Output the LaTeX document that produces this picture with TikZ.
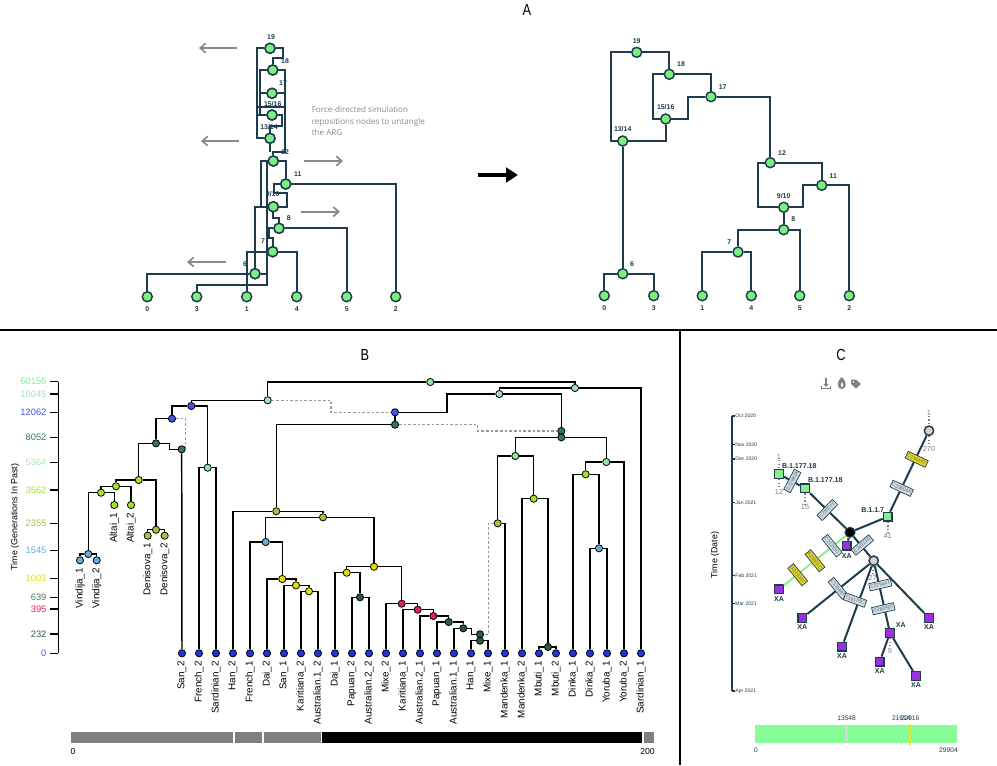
\documentclass[tikz,border=0pt]{standalone}
\usepackage{fontspec}
\setmainfont{Liberation Sans}
\newfontfamily\opensans{Open Sans}
\usetikzlibrary{arrows.meta}
\definecolor{ae}{HTML}{1D3C4E}
\definecolor{ag}{HTML}{7CF07E}
\definecolor{agray}{HTML}{8A8A8A}
\definecolor{cLG}{HTML}{8EE89A}
\definecolor{cCY}{HTML}{9EDDDC}
\definecolor{cBL}{HTML}{4655E8}
\definecolor{cTE}{HTML}{2D7A58}
\definecolor{cPG}{HTML}{A8E8B8}
\definecolor{cYG}{HTML}{A4E22A}
\definecolor{cOL}{HTML}{A0C83A}
\definecolor{cLB}{HTML}{64AEDA}
\definecolor{cYE}{HTML}{E2E000}
\definecolor{cDG}{HTML}{5A7A58}
\definecolor{cRE}{HTML}{E2205A}
\definecolor{cDK}{HTML}{2F5A3F}
\definecolor{cLeaf}{HTML}{2233DD}
\definecolor{cbox}{HTML}{D3DCE2}
\definecolor{cyel}{HTML}{E6D41C}
\definecolor{cxa}{HTML}{9B30E0}
\definecolor{csq}{HTML}{86EE8C}
\definecolor{cbar}{HTML}{88FC98}
\definecolor{cgreenline}{HTML}{8CF08C}
\definecolor{cyline}{HTML}{F0E020}
\tikzset{
  aedge/.style={draw=ae, line width=1.6pt},
  anode/.style={circle, fill=ag, draw=ae, line width=1.1pt, minimum size=7.5pt, inner sep=0pt},
  alab/.style={font=\fontsize{5.2}{6}\selectfont\bfseries, text=ae, inner sep=0pt},
  garrow/.style={draw=agray, line width=1.3pt, -{Straight Barb[length=4pt,width=7pt]}},
  bedge/.style={draw=black, line width=1.1pt},
  bdash/.style={draw=gray!80, line width=1pt, dash pattern=on 2pt off 1.5pt},
  bnode/.style={circle, draw=black, line width=0.6pt, minimum size=5.4pt, inner sep=0pt},
  bleaf/.style={bnode, fill=cLeaf},
  blab/.style={font=\fontsize{7.4}{8}\selectfont, rotate=90, anchor=east, inner sep=1pt},
  btick/.style={font=\fontsize{7}{8}\selectfont, anchor=east, inner sep=1pt},
  cedge/.style={draw=ae, line width=1.5pt},
  csqn/.style={rectangle, draw=ae, line width=1.1pt, minimum size=6.5pt, inner sep=0pt},
  ccirc/.style={circle, draw=ae, line width=1.1pt, minimum size=7pt, inner sep=0pt},
  mbox/.style={draw=ae, line width=0.5pt, fill=cbox, font=\fontsize{3.7}{4}\selectfont, inner sep=0.7pt, minimum height=5.5pt, text=ae!75},
  ybox/.style={mbox, fill=cyel},
  clab/.style={font=\fontsize{5.3}{6}\selectfont\bfseries, text=ae, inner sep=0pt},
  cnum/.style={font=\fontsize{5.5}{6}\selectfont, text=gray, inner sep=0pt},
  cdots/.style={draw=gray, line width=1.2pt, dash pattern=on 1pt off 1.6pt},
  ctick/.style={font=\fontsize{3.8}{4}\selectfont, text=ae, anchor=west, inner sep=0.5pt},
  plabel/.style={font=\fontsize{12}{14}\selectfont, xscale=0.8},
}
\begin{document}
\begin{tikzpicture}[x=0.75pt,y=-0.75pt]
\useasboundingbox (0,0) rectangle (997,765);
\fill[white] (0,0) rectangle (997,765);

% ---------- panel labels and separators
\node[plabel] (pA) at (527,10) {A};
\node[plabel] (pB) at (365,355) {B};
\node[plabel] (pC) at (841,355) {C};
\draw[line width=1.3pt] (0,330) -- (997,330);
\draw[line width=1.3pt] (680,330) -- (680,765);

% ================= PANEL A left (tangled)
\node[anode] (l19) at (270,48.3) {};
\node[anode] (l18) at (272.7,70) {};
\node[anode] (l17) at (272,93.3) {};
\node[anode] (l15) at (272,115) {};
\node[anode] (l13) at (270,138.3) {};
\node[anode] (l12) at (273.3,161) {};
\node[anode] (l11) at (285.7,184) {};
\node[anode] (l9) at (273.3,206.7) {};
\node[anode] (l8) at (279,228.3) {};
\node[anode] (l7) at (272.7,251.7) {};
\node[anode] (l6) at (255,273.7) {};
\node[anode] (la0) at (147.3,296.7) {};
\node[anode] (la3) at (196.7,296.7) {};
\node[anode] (la1) at (246.7,296.7) {};
\node[anode] (la4) at (296.7,296.7) {};
\node[anode] (la5) at (346.7,296.7) {};
\node[anode] (la2) at (395.7,296.7) {};
\begin{scope}[aedge]
\draw (l19) -- (257.3,48.3) -- (257.3,138.3) -- (l13);
\draw (l19) -- (283.3,48.3) -- (283.3,58.3) -- (272.7,58.3) -- (l18);
\draw (l18) -- (260.3,70) -- (260.3,115) -- (l15);
\draw (l18) -- (284.7,70) -- (284.7,152) -- (273.3,152) -- (l12);
\draw (l17) -- (260.3,93.3);
\draw (l17) -- (284.7,93.3);
\draw (258.3,106.7) -- (284.7,106.7);
\draw (l15) -- (258.3,115);
\draw (l15) -- (282,115) -- (282,126) -- (270,126) -- (l13);
\draw (l13) -- (270,152);
\draw (l12) -- (260.7,161) -- (260.7,206.7) -- (l9);
\draw (l12) -- (285.7,161) -- (l11);
\draw (266.7,161) -- (266.7,285) -- (196.7,285) -- (la3);
\draw (l11) -- (395.7,184) -- (la2);
\draw (l11) -- (274,184) -- (274,193.3) -- (286.7,193.3) -- (286.7,206.7) -- (l9);
\draw (l9) -- (255,206.7) -- (l6);
\draw (l9) -- (273.3,218.3) -- (279,218.3) -- (l8);
\draw (l8) -- (346.7,228.3) -- (la5);
\draw (l8) -- (268.5,228.3) -- (268.5,238.3) -- (272.7,238.3) -- (l7);
\draw (l7) -- (246.7,251.7) -- (la1);
\draw (l7) -- (296.7,251.7) -- (la4);
\draw (l6) -- (147.3,273.7) -- (la0);
\draw (l6) -- (266.7,273.7);
\end{scope}
\foreach \p in {l19,l18,l17,l15,l13,l12,l11,l9,l8,l7,l6} {\node[anode] at (\p) {};}
\node[alab] at (271,37) {19};
\node[alab] at (285,61) {18};
\node[alab] at (283,83) {17};
\node[alab] at (272.7,104) {15/16};
\node[alab] at (269,127) {13/14};
\node[alab] at (285,152) {12};
\node[alab] at (297.7,174) {11};
\node[alab] at (272.7,194) {9/10};
\node[alab] at (288.7,218) {8};
\node[alab] at (263,241) {7};
\node[alab] at (245,264) {6};
\node[alab] at (147.3,309) {0};
\node[alab] at (196.7,309) {3};
\node[alab] at (246.7,309) {1};
\node[alab] at (296.7,309) {4};
\node[alab] at (346.7,309) {5};
\node[alab] at (395.7,309) {2};
% gray arrows
\coordinate (ga1s) at (237,48); \coordinate (ga1e) at (199,48);
\coordinate (ga2s) at (239,141); \coordinate (ga2e) at (201,141);
\coordinate (ga3s) at (304,161); \coordinate (ga3e) at (343,161);
\coordinate (ga4s) at (300.7,211.7); \coordinate (ga4e) at (340,211.7);
\coordinate (ga5s) at (226,262); \coordinate (ga5e) at (187,262);
\draw[garrow] (ga1s) -- (ga1e);
\draw[garrow] (ga2s) -- (ga2e);
\draw[garrow] (ga3s) -- (ga3e);
\draw[garrow] (ga4s) -- (ga4e);
\draw[garrow] (ga5s) -- (ga5e);
\node[anchor=north west, align=left, inner sep=0pt, text=agray,
      font=\opensans\fontsize{6.1}{8.4}\selectfont] (ftxt) at (311.5,106.5)
  {Force-directed simulation\\repositions nodes to untangle\\the ARG};
% big arrow
\coordinate (bas) at (478,175); \coordinate (bae) at (518,175);
\draw[line width=2.4pt, -{Triangle[length=9pt,width=11pt]}] (bas) -- (bae);

% ================= PANEL A right
\node[anode] (r19) at (636.7,52.3) {};
\node[anode] (r18) at (669.3,74.3) {};
\node[anode] (r17) at (711,96.7) {};
\node[anode] (r15) at (665.7,119) {};
\node[anode] (r13) at (622.7,141) {};
\node[anode] (r12) at (770.3,162.7) {};
\node[anode] (r11) at (821.7,185.3) {};
\node[anode] (r9) at (783.7,207.3) {};
\node[anode] (r8) at (783.7,229.7) {};
\node[anode] (r7) at (738,252) {};
\node[anode] (r6) at (622.7,273.7) {};
\node[anode] (ra0) at (604.3,295.7) {};
\node[anode] (ra3) at (653.7,295.7) {};
\node[anode] (ra1) at (702.3,295.7) {};
\node[anode] (ra4) at (751.3,295.7) {};
\node[anode] (ra5) at (799.7,295.7) {};
\node[anode] (ra2) at (849.3,295.7) {};
\begin{scope}[aedge]
\draw (r19) -- (610.7,52.3) |- (r13);
\draw (r19) -| (r18);
\draw (r18) -- (652.7,74.3) |- (r15);
\draw (r18) -| (r17);
\draw (r17) -- (687.7,96.7) |- (r15);
\draw (r17) -| (r12);
\draw (r15) |- (r13);
\draw (r13) -- (r6);
\draw (r6) -| (ra0);
\draw (r6) -| (ra3);
\draw (r12) -- (757.7,162.7) |- (r9);
\draw (r12) -| (r11);
\draw (r11) -- (802.7,185.3) |- (r9);
\draw (r11) -| (ra2);
\draw (r9) -- (r8);
\draw (r8) -| (r7);
\draw (r8) -| (ra5);
\draw (r7) -| (ra1);
\draw (r7) -| (ra4);
\end{scope}
\node[alab] at (636.7,40.7) {19};
\node[alab] at (681,64.3) {18};
\node[alab] at (722.7,86.7) {17};
\node[alab] at (665.7,107.3) {15/16};
\node[alab] at (622.7,129.3) {13/14};
\node[alab] at (782,153.3) {12};
\node[alab] at (833.3,175.7) {11};
\node[alab] at (783.7,196.3) {9/10};
\node[alab] at (793.3,219.3) {8};
\node[alab] at (729.3,242.3) {7};
\node[alab] at (632,264.3) {6};
\node[alab] at (604.3,308) {0};
\node[alab] at (653.7,308) {3};
\node[alab] at (702.3,308) {1};
\node[alab] at (751.3,308) {4};
\node[alab] at (799.7,308) {5};
\node[alab] at (849.3,308) {2};

% ================= PANEL B
% axis
\draw[line width=1.1pt] (58.3,381.7) -- (58.3,653.3);
\foreach \yy/\lab/\col in {381.7/60156/cLG, 394/18045/cCY, 412.3/12062/cBL, 437.3/8052/cTE,
   462.3/5364/cPG, 490/3562/cYG, 523.3/2355/cOL, 550.7/1545/cLB, 578.3/1003/cYE,
   597.3/639/cDG, 609/395/cRE, 634/232/cDK, 653.3/0/cBL}{
  \draw[line width=1pt] (49.5,\yy) -- (58.3,\yy);
  \node[btick, text=\col] at (48,\yy) {\lab};
}
\node[rotate=90, font=\fontsize{6.7}{8}\selectfont] (btitle) at (15,517) {Time (Generations In Past)};

% leaves
\foreach \i/\nm in {0/San\_2,1/French\_2,2/Sardinian\_2,3/Han\_2,4/French\_1,5/Dai\_2,6/San\_1,
  7/Karitiana\_2,8/Australian.1\_2,9/Dai\_1,10/Papuan\_2,11/Australian.2\_2,12/Mixe\_2,
  13/Karitiana\_1,14/Australian.2\_1,15/Papuan\_1,16/Australian.1\_1,17/Han\_1,18/Mixe\_1,
  19/Mandenka\_1,20/Mandenka\_2,21/Mbuti\_1,22/Mbuti\_2,23/Dinka\_1,24/Dinka\_2,
  25/Yoruba\_1,26/Yoruba\_2,27/Sardinian\_1}{
  \node[bleaf] (L\i) at ({182+17*\i},653.3) {};
  \node[blab] at ({182+17*\i},659.5) {\nm};
}
% ancient group
\node[bnode, fill=cLB] (v1) at (80,560.3) {};
\node[bnode, fill=cLB] (v2) at (96.7,560.3) {};
\node[bnode, fill=cLB] (vp) at (88.3,554) {};
\node[bnode, fill=cYG] (a1) at (114.3,505) {};
\node[bnode, fill=cYG] (a2) at (131,505) {};
\node[bnode, fill=cYG] (n1) at (101,492.7) {};
\node[bnode, fill=cYG] (n2) at (116,486.3) {};
\node[bnode, fill=cYG] (n3) at (138.7,480) {};
\node[bnode, fill=cOL] (d1) at (147.7,535.7) {};
\node[bnode, fill=cOL] (d2) at (164.7,535.7) {};
\node[bnode, fill=cOL] (dp) at (156,529.7) {};
\node[bnode, fill=cTE] (n4) at (156,443.3) {};
\node[bnode, fill=cTE] (n5) at (181.7,449.3) {};
\node[bnode, fill=cBL] (n6) at (172,418.7) {};
\node[bnode, fill=cBL] (n7) at (191.3,406) {};
\node[bnode, fill=cLG] (n8) at (207.7,467.7) {};
\node[bnode, fill=cCY] (n9) at (267.7,400.3) {};
\node[bnode, fill=cLG] (top) at (430.3,382) {};
\node[bnode, fill=cCY] (n10) at (575,388) {};
\node[bnode, fill=cCY] (n11) at (499.3,394) {};
\node[bnode, fill=cBL] (n12) at (395,412.3) {};
\node[bnode, fill=cTE] (n13) at (395,424.7) {};
\node[bnode, fill=cTE] (n14) at (561.3,431) {};
\node[bnode, fill=cTE] (n15) at (561.3,437.3) {};
\node[bnode, fill=cLG] (n16) at (515.3,456) {};
\node[bnode, fill=cLG] (n17) at (606.3,462) {};
\node[bnode, fill=cOL] (n18) at (497.7,523.3) {};
\node[bnode, fill=cYG] (n19) at (533.7,498.7) {};
\node[bnode, fill=cDK] (n20) at (548,647) {};
\node[bnode, fill=cYG] (n21) at (585.7,474.3) {};
\node[bnode, fill=cLB] (n22) at (599,548.3) {};
\node[bnode, fill=cOL] (m1) at (276.3,511.3) {};
\node[bnode, fill=cOL] (m2) at (323,517.3) {};
\node[bnode, fill=cLB] (m3) at (265.7,542) {};
\node[bnode, fill=cYE] (m4) at (374,566.7) {};
\node[bnode, fill=cYE] (m5) at (282.3,579) {};
\node[bnode, fill=cYE] (m6) at (296,585.3) {};
\node[bnode, fill=cYE] (m7) at (309,591.3) {};
\node[bnode, fill=cYE] (m8) at (346.7,572.7) {};
\node[bnode, fill=cDK] (m9) at (360,597.3) {};
\node[bnode, fill=cRE] (m10) at (401.7,603.7) {};
\node[bnode, fill=cRE] (m11) at (417.7,609.7) {};
\node[bnode, fill=cRE] (m12) at (433.3,616) {};
\node[bnode, fill=cDK] (m13) at (448.7,622) {};
\node[bnode, fill=cDK] (m14) at (463.3,628.3) {};
\node[bnode, fill=cDK] (m15) at (480,634.3) {};
\node[bnode, fill=cDK] (m16) at (480,640.7) {};

\begin{scope}[bedge]
\draw (vp) -| (v1); \draw (vp) -| (v2);
\draw (n1) -| (vp); \draw (n1) -| (a1);
\draw (n2) -| (n1); \draw (n2) -| (a2);
\draw (n3) -| (n2); \draw (n3) -| (dp);
\draw (dp) -| (d1); \draw (dp) -| (d2);
\draw (n4) -| (n3);
\draw (n4) -- (169.3,443.3) -- (169.3,449.3) -- (n5);
\draw (n5) -- (L0);
\draw (n6) -| (n4);
\draw (n7) -| (n6); \draw (n7) -| (n8);
\draw (n8) -| (L1); \draw (n8) -| (L2);
\draw (n9) -| (n7);
\draw (top) -| (n9); \draw (top) -| (n10);
\draw (n10) -| (n11); \draw (n10) -| (L27);
\draw (n11) -- (447,394) |- (n12);
\draw (n11) -| (n14);
\draw (n12) -- (n13);
\draw (n13) -| (m1);
\draw (n14) -- (n15);
\draw (n15) -| (n16); \draw (n15) -| (n17);
\draw (n16) -| (n18); \draw (n16) -| (n19);
\draw (n18) -| (L19);
\draw (n19) -| (L20); \draw (n19) -| (n20);
\draw (n20) -| (L21); \draw (n20) -| (L22);
\draw (n17) -| (n21); \draw (n17) -| (L26);
\draw (n21) -| (L23); \draw (n21) -| (n22);
\draw (n22) -| (L24); \draw (n22) -| (L25);
\draw (m1) -| (L3); \draw (m1) -| (m2);
\draw (m2) -| (m3); \draw (m2) -| (m4);
\draw (m3) -| (L4); \draw (m3) -| (m5);
\draw (m5) -| (L5); \draw (m5) -| (m6);
\draw (m6) -| (L6); \draw (m6) -| (m7);
\draw (m7) -| (L7); \draw (m7) -| (L8);
\draw (m4) -| (m8); \draw (m4) -| (m10);
\draw (m8) -| (L9); \draw (m8) -| (m9);
\draw (m9) -| (L10); \draw (m9) -| (L11);
\draw (m10) -| (L12); \draw (m10) -| (m11);
\draw (m11) -| (L13); \draw (m11) -| (m12);
\draw (m12) -| (L14); \draw (m12) -| (m13);
\draw (m13) -| (L15); \draw (m13) -| (m14);
\draw (m14) -| (L16);
\draw (m14) -- (471.7,628.3) -- (471.7,634.3) -- (m15);
\draw (m15) -- (m16);
\draw (m16) -| (L17); \draw (m16) -| (L18);
\end{scope}
\begin{scope}[bdash]
\draw (n6) -- (185.7,418.7) |- (n5);
\draw (n9) -- (331,400.3) |- (n12);
\draw (n13) -- (477.7,424.7) |- (n14);
\draw (n18) -- (488.3,523.3) |- (m15);
\end{scope}
% ancient leaf labels
\node[blab] at (80,566.5) {Vindija\_1};
\node[blab] at (96.7,566.5) {Vindija\_2};
\node[blab] at (114.3,511) {Altai\_1};
\node[blab] at (131,511) {Altai\_2};
\node[blab] at (147.7,541.7) {Denisova\_1};
\node[blab] at (164.7,541.7) {Denisova\_2};
% genome bar
\fill[gray] (71,732) rectangle (233.2,743);
\fill[gray] (234.8,732) rectangle (262.2,743);
\fill[gray] (264.2,732) rectangle (321,743);
\fill[black] (322.2,732) rectangle (642.1,743);
\fill[gray] (644.1,732) rectangle (654,743);
\node[font=\fontsize{6.5}{7}\selectfont] (b0) at (73,751.5) {0};
\node[font=\fontsize{6.5}{7}\selectfont, anchor=east, inner sep=0pt] (b200) at (655,751.5) {200};

% ================= PANEL C
% icons
\draw[gray, line width=1pt] (821.5,385.5) -- (821.5,388.5) -- (830.5,388.5) -- (830.5,385.5);
\draw[gray, line width=1.3pt, -{Triangle[length=2.4pt,width=4pt]}] (826,378) -- (826,387);
\fill[gray] (841.7,377) .. controls (847,381) and (847,389) .. (841.7,389)
   .. controls (836.5,389) and (836.5,381) .. (841.7,377);
\fill[white] (841.9,381.8) .. controls (843.6,383.5) and (843.6,387) .. (841.9,387)
   .. controls (840.4,387) and (840.4,384) .. (841.9,381.8);
\fill[gray] (851,379.5) -- (856,379.5) -- (861,384) -- (856,388.5) -- (851,384) -- cycle;
\fill[white] (853.4,381.8) circle (0.9);
% time axis
\draw[ae, line width=1.5pt] (731.7,416) -- (731.7,691);
\foreach \yy/\lab in {416/Oct 2020, 444.7/Nov 2020, 459/Dec 2020, 502.7/Jan 2021,
   575.3/Feb 2021, 603.7/Mar 2021, 691/Apr 2021}{
  \draw[ae, line width=0.8pt] (731.7,\yy) -- (734.5,\yy);
  \node[ctick] at (734.5,\yy) {\lab};
}
\node[rotate=90, font=\fontsize{6.7}{8}\selectfont] (ctitle) at (715,555) {Time (Date)};

% nodes
\node[ccirc, fill=gray!35] (R) at (929,430.7) {};
\node[csqn, fill=csq] (B117) at (887.7,516.7) {};
\node[circle, fill=black, draw=ae, line width=0.8pt, minimum size=7.5pt, inner sep=0pt] (J) at (850,532.3) {};
\node[csqn, fill=csq] (B1) at (779,474) {};
\node[csqn, fill=csq] (B2) at (805,488.3) {};
\node[ccirc, fill=gray!35] (K) at (873.7,560.7) {};
\node[csqn, fill=cxa] (XA1) at (846.7,545.7) {};
\node[csqn, fill=cxa] (XA2) at (779,589.3) {};
\node[csqn, fill=cxa] (XA3) at (802.3,618) {};
\node[csqn, fill=cxa] (XA4) at (842,646.7) {};
\node[csqn, fill=cxa] (XA5) at (929,618) {};
\node[csqn, fill=cxa] (XA6) at (890,633) {};
\node[csqn, fill=cxa] (XA7) at (879.7,661.7) {};
\node[csqn, fill=cxa] (XA8) at (916,676) {};
% dotted stems and counts
\node[cnum] (R1) at (929,413) {1};
\node[cnum] (R270) at (929,449) {270};
\node[cnum] (B11) at (779,457.3) {1};
\node[cnum] (B112) at (779,492.3) {12};
\node[cnum] (B215) at (805,506.7) {15};
\node[cnum] (B741) at (887.7,535.7) {41};
\node[cnum] (K27) at (872.5,578.3) {27};
\node[cnum] (X69) at (890,651) {9};
\draw[cdots] (R1) -- (R); \draw[cdots] (R) -- (R270);
\draw[cdots] (B11) -- (B1); \draw[cdots] (B1) -- (B112);
\draw[cdots] (B2) -- (B215);
\draw[cdots] (B117) -- (B741);
\draw[cdots] (K) -- (K27);
\draw[cdots] (XA6) -- (X69);
% edges
\draw[cedge] (R) -- (B117);
\draw[cedge] (B117) -- (J);
\draw[cedge] (B1) -- (B2);
\draw[cedge] (B2) -- (J);
\draw[cedge] (J) -- (K);
\draw[draw=cgreenline, line width=1.5pt] (J) -- (XA2);
\draw[cedge] (K) -- (XA3);
\draw[cedge] (K) -- (XA4);
\draw[cedge] (K) -- (XA6);
\draw[cedge] (K) -- (XA5);
\draw[cedge] (XA6) -- (XA7);
\draw[cedge] (XA6) -- (XA8);
\draw[cedge] (J) -- (XA1);
% mutation boxes
\node[ybox, rotate=-25] (mu1) at (916.7,459.3) {C21614T};
\node[mbox, rotate=-25] (mu2) at (901.7,488.3) {C23604A};
\node[mbox, rotate=62] (mu3) at (792.3,481) {G22992A};
\node[mbox, rotate=46] (mu4) at (827.3,510) {C28977T};
\node[mbox, rotate=40] (mu5) at (862.3,545) {C24914G};
\node[mbox, rotate=-51] (mu6) at (832,545.7) {C21255G};
\node[ybox, rotate=-51] (mu7) at (815,560.7) {A21801C};
\node[ybox, rotate=-51] (mu8) at (797.7,574.7) {G22916T};
\node[mbox, rotate=-51] (mu9) at (838,588.3) {C13548T};
\node[mbox, rotate=-20] (mu10) at (855,600) {T16176C};
\node[mbox, rotate=13] (mu11) at (880.3,584.8) {C27944T};
\node[mbox, rotate=13] (mu12) at (883.3,608.7) {G28048T};
% labels
\node[clab] at (799.3,466) {B.1.177.18};
\node[clab] at (825.3,480) {B.1.177.18};
\node[clab] at (872.7,510) {B.1.1.7};
\node[clab] at (846.7,555.7) {XA};
\node[clab] at (779,598.7) {XA};
\node[clab] at (802.3,627.3) {XA};
\node[clab] at (842,656) {XA};
\node[clab] at (929,627.3) {XA};
\node[clab] at (900.7,625) {XA};
\node[clab] at (879.7,670.7) {XA};
\node[clab] at (916,685) {XA};
% genome bar C
\fill[cbar] (755,724.5) rectangle (957.4,743);
\draw[gray!25, line width=1pt] (846.6,723.5) -- (846.6,745);
\draw[cyline, line width=1pt] (901.3,723.5) -- (901.3,745);
\draw[cyline, line width=1pt] (910.1,723.5) -- (910.1,745);
\node[font=\fontsize{5}{6}\selectfont, text=ae, inner sep=0pt] (g1) at (846.6,718) {13548};
\node[font=\fontsize{5}{6}\selectfont, text=ae, inner sep=0pt] (g2) at (901.3,718) {21614};
\node[font=\fontsize{5}{6}\selectfont, text=ae, inner sep=0pt] (g3) at (910.1,718) {22916};
\node[font=\fontsize{5}{6}\selectfont, text=ae, inner sep=0pt] (g0) at (756,750) {0};
\node[font=\fontsize{5}{6}\selectfont, text=ae, inner sep=0pt, anchor=east] (gE) at (958,750) {29904};
\end{tikzpicture}
\end{document}
